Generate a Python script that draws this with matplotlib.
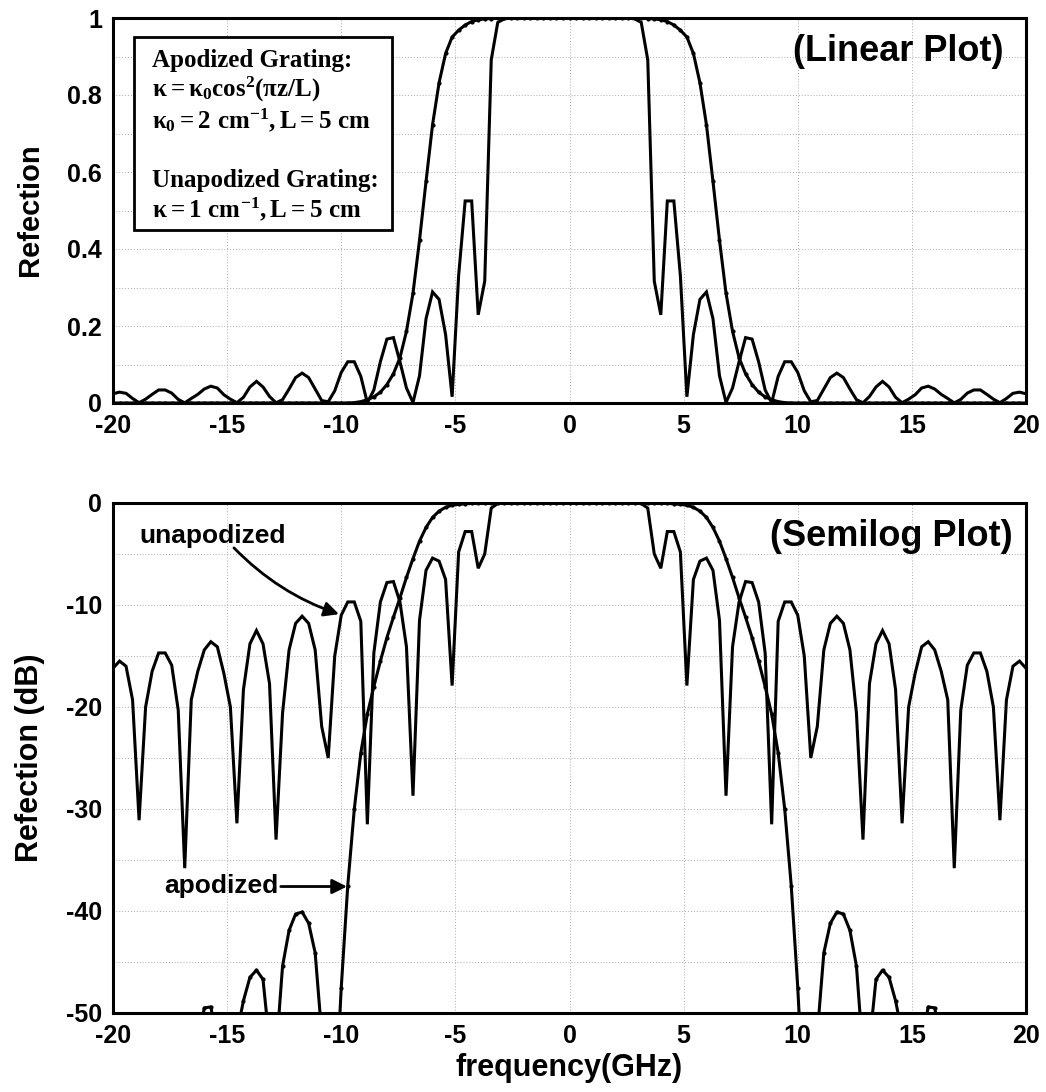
import numpy as np
import matplotlib

matplotlib.use("Agg")
import matplotlib.pyplot as plt
from matplotlib.patches import Rectangle

# Sample grid: 0 .. 20 GHz every 2/7 GHz; curves are mirror-symmetric about 0.
freq_half = np.linspace(0.0, 20.0, 71)

# Unapodized grating reflection (dB) at freq_half
unapod_db_half = [
    0, 0, 0, 0, 0, 0, 0, 0, 0, 0,
    -0.01, -0.05, -0.5, -5.0, -6.4, -2.8, -2.8, -4.8, -17.9, -7.5,
    -5.7, -5.4, -6.6, -11.5, -28.7, -14.1, -9.7, -7.7, -7.8, -9.7,
    -14.7, -31.5, -11.6, -9.7, -9.7, -11.0, -15.0, -25.0, -21.9, -14.4,
    -11.8, -11.1, -11.8, -14.4, -20.6, -33.0, -17.7, -13.8, -12.5, -13.8,
    -18.3, -31.4, -20.0, -16.7, -14.1, -13.6, -14.4, -16.5, -19.3, -35.8,
    -20.3, -15.9, -14.7, -14.7, -16.5, -20.0, -31.1, -19.3, -16.0, -15.5,
    -16.2,
]

# Apodized grating reflection (dB) at freq_half
apod_db_half = [
    0, 0, 0, 0, 0, 0, 0, 0, 0,
    -0.001, -0.002, -0.004, -0.006, -0.01, -0.02, -0.04, -0.08, -0.14, -0.22, -0.42,
    -0.8, -1.41, -2.4, -3.74, -5.45, -7.3, -9.3, -11.2, -13.2, -15.5,
    -18.0, -20.7, -24.5, -30.0, -37.5, -47.5, -60, -60, -52, -44.1,
    -41.2, -40.1, -40.3, -41.9, -45.4, -54, -53, -46.7, -45.8, -46.5,
    -48.8, -52, -60, -60, -53, -49.4, -49.5, -53, -60, -60,
    -60, -60, -60, -60, -60, -60, -60, -60, -60, -60, -60,
]

x_ticks = [-20, -15, -10, -5, 0, 5, 10, 15, 20]
x_labels = ["-20", "-15", "-10", "-5", "0", "5", "10", "15", "20"]
lin_ticks = [0, 0.2, 0.4, 0.6, 0.8, 1.0]
lin_labels = ["0", "0.2", "0.4", "0.6", "0.8", "1"]
db_ticks = [-50, -40, -30, -20, -10, 0]
db_labels = ["-50", "-40", "-30", "-20", "-10", "0"]


def mirror(half):
    half = np.asarray(half, dtype=float)
    return np.concatenate([half[:0:-1], half])


freq = np.concatenate([-freq_half[:0:-1], freq_half])
unapod_db = mirror(unapod_db_half)
apod_db = mirror(apod_db_half)
unapod_lin = 10 ** (unapod_db / 10)
apod_lin = 10 ** (apod_db / 10)

plt.rcParams["font.family"] = ["Liberation Sans", "DejaVu Sans"]
plt.rcParams["font.weight"] = "bold"
plt.rcParams["axes.unicode_minus"] = False
plt.rcParams["mathtext.fontset"] = "custom"
plt.rcParams["mathtext.rm"] = "Liberation Serif:bold"
plt.rcParams["mathtext.it"] = "Liberation Serif:bold"
plt.rcParams["mathtext.bf"] = "Liberation Serif:bold"

W, H = 1046, 1092
fig = plt.figure(figsize=(W / 100, H / 100), dpi=100)
fig.patch.set_facecolor("white")

ax1 = fig.add_axes([113 / W, 1 - 403 / H, 913 / W, 385 / H])
ax2 = fig.add_axes([113 / W, 1 - 1013 / H, 913 / W, 510 / H])

GRID = dict(color="#ababab", linestyle=(0, (1, 2)), linewidth=0.7)
TICKFONT = 18
LW = 2.2


def style_axes(ax):
    for s in ax.spines.values():
        s.set_linewidth(2.2)
        s.set_color("black")
    ax.tick_params(which="both", length=0, pad=8, labelsize=TICKFONT)
    ax.set_xlim(-20, 20)
    ax.set_xticks(x_ticks)
    ax.set_xticklabels(x_labels, fontweight="bold")
    ax.set_axisbelow(True)


# ---- top: linear plot ----
style_axes(ax1)
ax1.set_ylim(0, 1)
ax1.set_yticks(lin_ticks)
ax1.set_yticklabels(lin_labels, fontweight="bold")
ax1.set_yticks(np.arange(0.1, 1.0, 0.1), minor=True)
ax1.grid(True, which="both", axis="y", **GRID)
ax1.grid(True, which="major", axis="x", **GRID)
ax1.plot(freq, unapod_lin, color="black", lw=LW, solid_joinstyle="miter", zorder=3)
ax1.plot(freq, apod_lin, color="black", lw=LW, marker="o", ms=3, mew=0, zorder=4)

ax1.text(0.975, 0.958, "(Linear Plot)", transform=ax1.transAxes, ha="right",
         va="top", fontsize=26, fontweight="bold", zorder=6)

# parameter box
ax1.add_patch(Rectangle((0.023, 0.449), 0.283, 0.502, transform=ax1.transAxes,
                        facecolor="white", edgecolor="black", lw=2, zorder=5))
box_lines = [
    (0.873, "Apodized Grating:"),
    (0.795, r"$\kappa = \kappa_0\mathrm{cos}^2(\pi z/L)$"),
    (0.714, r"$\kappa_0 = 2\ \mathrm{cm}^{-1}, L = 5\ \mathrm{cm}$"),
    (0.561, "Unapodized Grating:"),
    (0.483, r"$\kappa = 1\ \mathrm{cm}^{-1}, L = 5\ \mathrm{cm}$"),
]
for yy, txt in box_lines:
    ax1.text(0.0424, yy, txt, transform=ax1.transAxes, ha="left", va="baseline",
             fontsize=18, fontweight="bold", family=["Liberation Serif", "DejaVu Serif"],
             zorder=6)

# ---- bottom: semilog plot ----
style_axes(ax2)
ax2.set_ylim(-50, 0)
ax2.set_yticks(db_ticks)
ax2.set_yticklabels(db_labels, fontweight="bold")
ax2.set_yticks(np.arange(-45, 0, 10), minor=True)
ax2.grid(True, which="both", axis="y", **GRID)
ax2.grid(True, which="major", axis="x", **GRID)
ax2.plot(freq, unapod_db, color="black", lw=LW, solid_joinstyle="miter", zorder=3)
ax2.plot(freq, apod_db, color="black", lw=LW, marker="o", ms=3, mew=0, zorder=4)

ax2.text(0.985, 0.968, "(Semilog Plot)", transform=ax2.transAxes, ha="right",
         va="top", fontsize=26, fontweight="bold", zorder=6)

ax2.text(-18.86, -3.92, "unapodized", ha="left", va="baseline", fontsize=19,
         fontweight="bold", zorder=6)
ax2.annotate("", xy=(-10.1, -10.9), xytext=(-14.7, -4.4),
             arrowprops=dict(arrowstyle="-|>", color="black", lw=2,
                             mutation_scale=22, shrinkA=0, shrinkB=0,
                             connectionstyle="arc3,rad=0.12"), zorder=6)
ax2.text(-17.77, -38.2, "apodized", ha="left", va="baseline", fontsize=19,
         fontweight="bold", zorder=6)
ax2.annotate("", xy=(-9.75, -37.6), xytext=(-12.65, -37.6),
             arrowprops=dict(arrowstyle="-|>", color="black", lw=2,
                             mutation_scale=22, shrinkA=0, shrinkB=0), zorder=6)

ax2.text(0.5, -0.108, "frequency(GHz)", transform=ax2.transAxes, ha="center",
         va="center", fontsize=22, fontweight="bold")

YLFONT = ["Liberation Sans Narrow", "Liberation Sans", "DejaVu Sans"]
fig.text(30 / W, 1 - 210 / H, "Refection", rotation=90, ha="center", va="center",
         fontsize=21, fontweight="bold", family=YLFONT)
fig.text(30 / W, 1 - 758 / H, "Refection (dB)", rotation=90, ha="center",
         va="center", fontsize=22, fontweight="bold", family=YLFONT)

fig.savefig("out.png", dpi=100, facecolor="white")
